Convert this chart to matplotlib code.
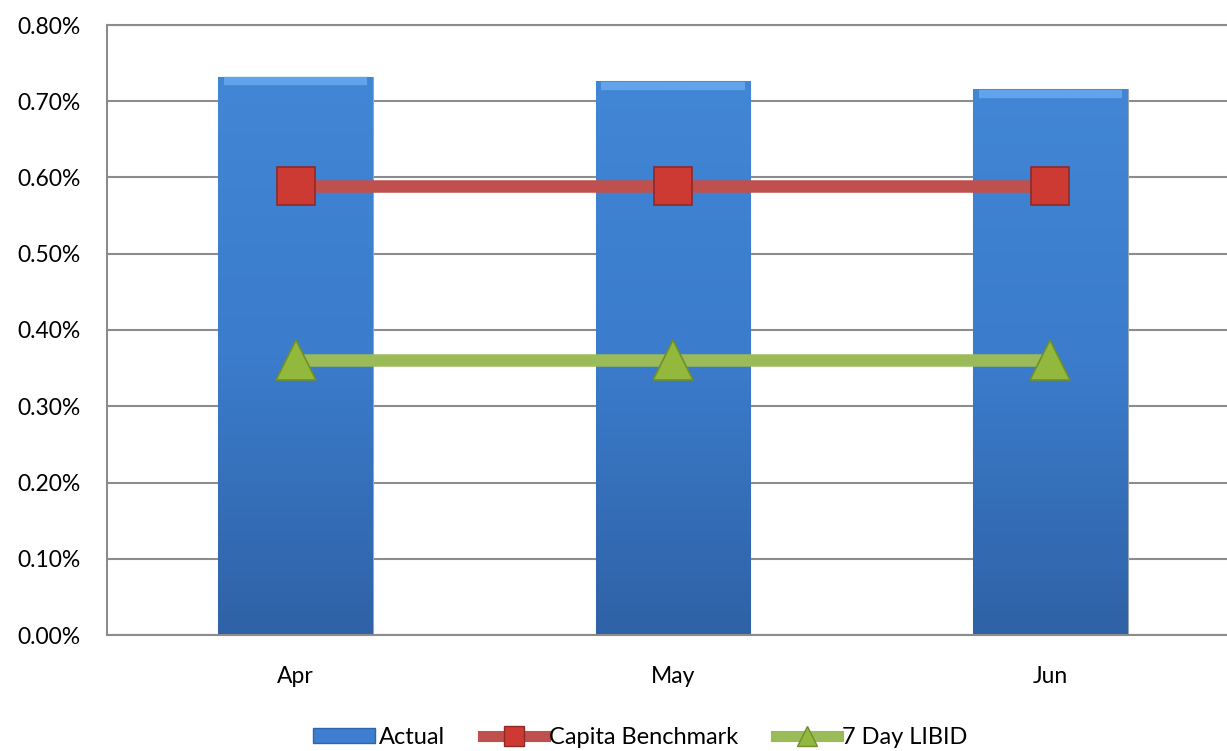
"""
Actual return vs. Capita benchmark and 7 Day LIBID, Apr-Jun.
Bars for actual, lines with markers for the two benchmarks.
"""

import matplotlib

matplotlib.use("Agg")
import matplotlib.pyplot as plt
import numpy as np
from matplotlib.colors import LinearSegmentedColormap
from matplotlib.patches import Patch
from matplotlib.lines import Line2D
from matplotlib.ticker import PercentFormatter

months = ["Apr", "May", "Jun"]
actual = [0.732, 0.726, 0.716]  # percent
capita_benchmark = [0.589, 0.589, 0.589]
libid_7day = [0.361, 0.361, 0.361]

BLUE = "#3D7ED0"
RED = "#C0504D"
GREEN = "#9BBB59"
GRID = "#8C8C8C"

plt.rcParams["font.family"] = ["Lato", "DejaVu Sans"]

fig = plt.figure(figsize=(12.27, 7.51), dpi=100)
# plot area runs past the right edge of the picture, as in the original
ax = fig.add_axes([107 / 1227, 1 - 635 / 751, 1132 / 1227, 610 / 751])

x = np.arange(len(months))
bars = ax.bar(x, actual, width=0.41, color=BLUE, edgecolor="#9AA6B4",
              linewidth=0.8, zorder=2)

# soft vertical shading inside each bar, lighter bevel along the top
shade = LinearSegmentedColormap.from_list("shade", ["#2F62A6", "#3B7CCC", "#4286D6"])
grad = np.linspace(0, 1, 256).reshape(-1, 1)
for b in bars:
    im = ax.imshow(grad, cmap=shade, aspect="auto", origin="lower",
                   extent=[b.get_x(), b.get_x() + b.get_width(), 0, b.get_height()],
                   zorder=2.1)
    im.set_clip_path(b)
    ax.plot([b.get_x() + 0.015, b.get_x() + b.get_width() - 0.015],
            [b.get_height() - 0.006] * 2, color="#62A4EC", lw=6,
            solid_capstyle="butt", zorder=2.2)

ax.plot(x, capita_benchmark, color=RED, lw=9, marker="s", markersize=27,
        markerfacecolor="#CC3A33", markeredgecolor="#8E2A26", markeredgewidth=1.2,
        zorder=3)
ax.plot(x, libid_7day, color=GREEN, lw=9, marker="^", markersize=29,
        markerfacecolor="#92B93E", markeredgecolor="#6E8F2C", markeredgewidth=1.2,
        zorder=3)

ax.set_xlim(-0.5, 2.5)
ax.set_ylim(0, 0.8)
ax.set_yticks(np.arange(0, 0.81, 0.1))
ax.yaxis.set_major_formatter(PercentFormatter(decimals=2))
ax.set_xticks(x)
ax.set_xticklabels(months)
ax.tick_params(axis="both", length=0, labelsize=16.5, colors="black")
ax.tick_params(axis="x", pad=22)
ax.tick_params(axis="y", pad=19)

ax.grid(axis="y", color=GRID, lw=1.5, zorder=0)
ax.set_axisbelow(True)
for side in ["left", "top", "bottom"]:
    ax.spines[side].set_color(GRID)
    ax.spines[side].set_linewidth(1.5)
ax.spines["right"].set_visible(False)

handles = [
    Patch(facecolor=BLUE, edgecolor="#2F64AA"),
    Line2D([], [], color=RED, lw=8, marker="s", markersize=14,
           markerfacecolor="#CC3A33", markeredgecolor="#8E2A26"),
    Line2D([], [], color=GREEN, lw=8, marker="^", markersize=15,
           markerfacecolor="#92B93E", markeredgecolor="#6E8F2C"),
]
fig.legend(handles, ["Actual", "Capita Benchmark", "7 Day LIBID"],
           loc="center", bbox_to_anchor=(0.522, 1 - 737 / 751), ncol=3,
           frameon=False, fontsize=17, handlelength=2.6, handleheight=0.6,
           handletextpad=0.2, columnspacing=1.6)

fig.savefig("out.png", dpi=100)
